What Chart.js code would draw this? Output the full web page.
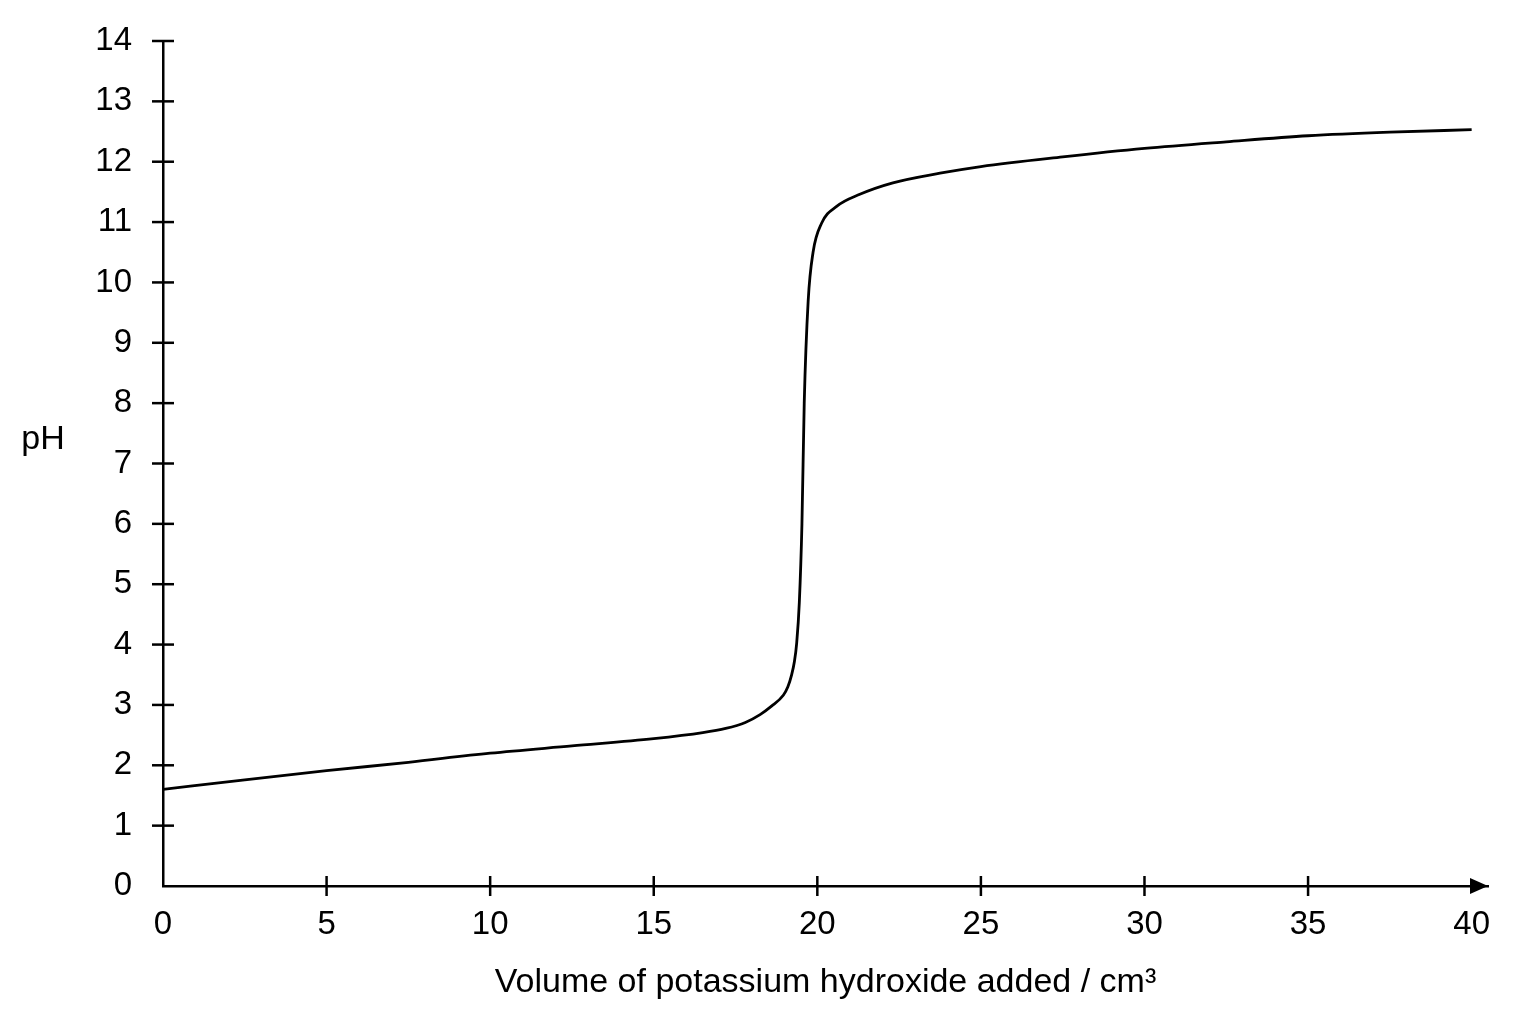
<!DOCTYPE html>
<html>
<head>
<meta charset="utf-8">
<script src="https://cdn.jsdelivr.net/npm/chart.js@4/dist/chart.umd.min.js"></script>
<style>
  html, body { margin: 0; padding: 0; background: #ffffff; }
  #wrap { width: 1536px; height: 1024px; }
</style>
</head>
<body>
<div id="wrap"><canvas id="c" width="1536" height="1024"></canvas></div>
<script>
// ---- data ----
const volumes = [0, 2.5, 5, 7.5, 10, 12.5, 15, 16.5, 17.2, 17.8, 18.25, 18.6, 18.96, 19.1, 19.21, 19.3, 19.37, 19.45, 19.53, 19.6, 19.72, 19.87, 20.13, 20.59, 21.3, 22.31, 23.75, 25, 27.5, 30, 32.5, 35, 37.5, 40];
const phValues = [1.60, 1.76, 1.91, 2.05, 2.20, 2.32, 2.44, 2.54, 2.61, 2.71, 2.84, 2.98, 3.16, 3.30, 3.49, 3.72, 4.03, 4.7, 6.0, 8.0, 9.69, 10.5, 10.98, 11.26, 11.46, 11.65, 11.81, 11.92, 12.08, 12.22, 12.33, 12.43, 12.49, 12.53];
const xTickValues = [0, 5, 10, 15, 20, 25, 30, 35, 40];
const yTickValues = [0, 1, 2, 3, 4, 5, 6, 7, 8, 9, 10, 11, 12, 13, 14];
const xTitle = 'Volume of potassium hydroxide added / cm³';
const yTitle = 'pH';

const FONT = "'Liberation Sans', Arial, sans-serif";

const points = volumes.map((v, i) => ({ x: v, y: phValues[i] }));

const axisDecor = {
  id: 'axisDecor',
  afterDraw(chart) {
    const ctx = chart.ctx;
    const xs = chart.scales.x, ys = chart.scales.y;
    const ca = chart.chartArea;
    const axisX = xs.getPixelForValue(0);
    const axisY = ys.getPixelForValue(0);
    ctx.save();
    ctx.strokeStyle = '#000';
    ctx.fillStyle = '#000';
    ctx.lineWidth = 2.5;
    // y ticks crossing the axis
    ys.ticks.forEach(t => {
      if (t.value === 0) return;
      const py = ys.getPixelForValue(t.value);
      ctx.beginPath();
      ctx.moveTo(axisX - 11, py);
      ctx.lineTo(axisX + 11, py);
      ctx.stroke();
    });
    // x ticks crossing the axis
    xs.ticks.forEach(t => {
      if (t.value === 0 || t.value === 40) return;
      const px = xs.getPixelForValue(t.value);
      ctx.beginPath();
      ctx.moveTo(px, axisY - 10);
      ctx.lineTo(px, axisY + 10);
      ctx.stroke();
    });
    // arrow head at the end of the x axis
    const tip = ca.right;
    ctx.beginPath();
    ctx.moveTo(tip, axisY);
    ctx.lineTo(tip - 18, axisY - 8);
    ctx.lineTo(tip - 18, axisY + 8);
    ctx.closePath();
    ctx.fill();
    // horizontal y-axis title
    ctx.font = "34px " + FONT;
    ctx.textAlign = 'center';
    ctx.textBaseline = 'middle';
    ctx.fillText(yTitle, 43, ys.getPixelForValue(7.4));
    ctx.restore();
  }
};

new Chart(document.getElementById('c'), {
  type: 'line',
  data: {
    datasets: [{
      data: points,
      borderColor: '#000',
      borderWidth: 2.8,
      pointRadius: 0,
      fill: false,
      cubicInterpolationMode: 'monotone'
    }]
  },
  options: {
    responsive: false,
    devicePixelRatio: 1,
    animation: false,
    layout: { padding: { top: 41, right: 48, left: 0, bottom: 0 } },
    plugins: { legend: { display: false }, tooltip: { enabled: false } },
    scales: {
      x: {
        type: 'linear',
        min: 0,
        max: 40.5,
        afterBuildTicks(scale) { scale.ticks = xTickValues.map(v => ({ value: v })); },
        afterFit(scale) { scale.height = 138; scale.paddingLeft = 0; scale.paddingRight = 0; },
        grid: { display: false, drawTicks: false },
        border: { display: true, color: '#000', width: 2.5 },
        ticks: { color: '#000', padding: 19, maxRotation: 0, autoSkip: false, font: { size: 33, family: FONT } },
        title: { display: true, text: xTitle, color: '#000', padding: { top: 0, bottom: 21 }, font: { size: 34, family: FONT } }
      },
      y: {
        type: 'linear',
        min: 0,
        max: 14,
        afterBuildTicks(scale) { scale.ticks = yTickValues.map(v => ({ value: v })); },
        afterFit(scale) { scale.width = 163; scale.paddingTop = 0; scale.paddingBottom = 0; },
        grid: { display: false, drawTicks: false },
        border: { display: true, color: '#000', width: 2.5 },
        ticks: { color: '#000', padding: 31, autoSkip: false, font: { size: 33, family: FONT } }
      }
    }
  },
  plugins: [axisDecor]
});
</script>
</body>
</html>
